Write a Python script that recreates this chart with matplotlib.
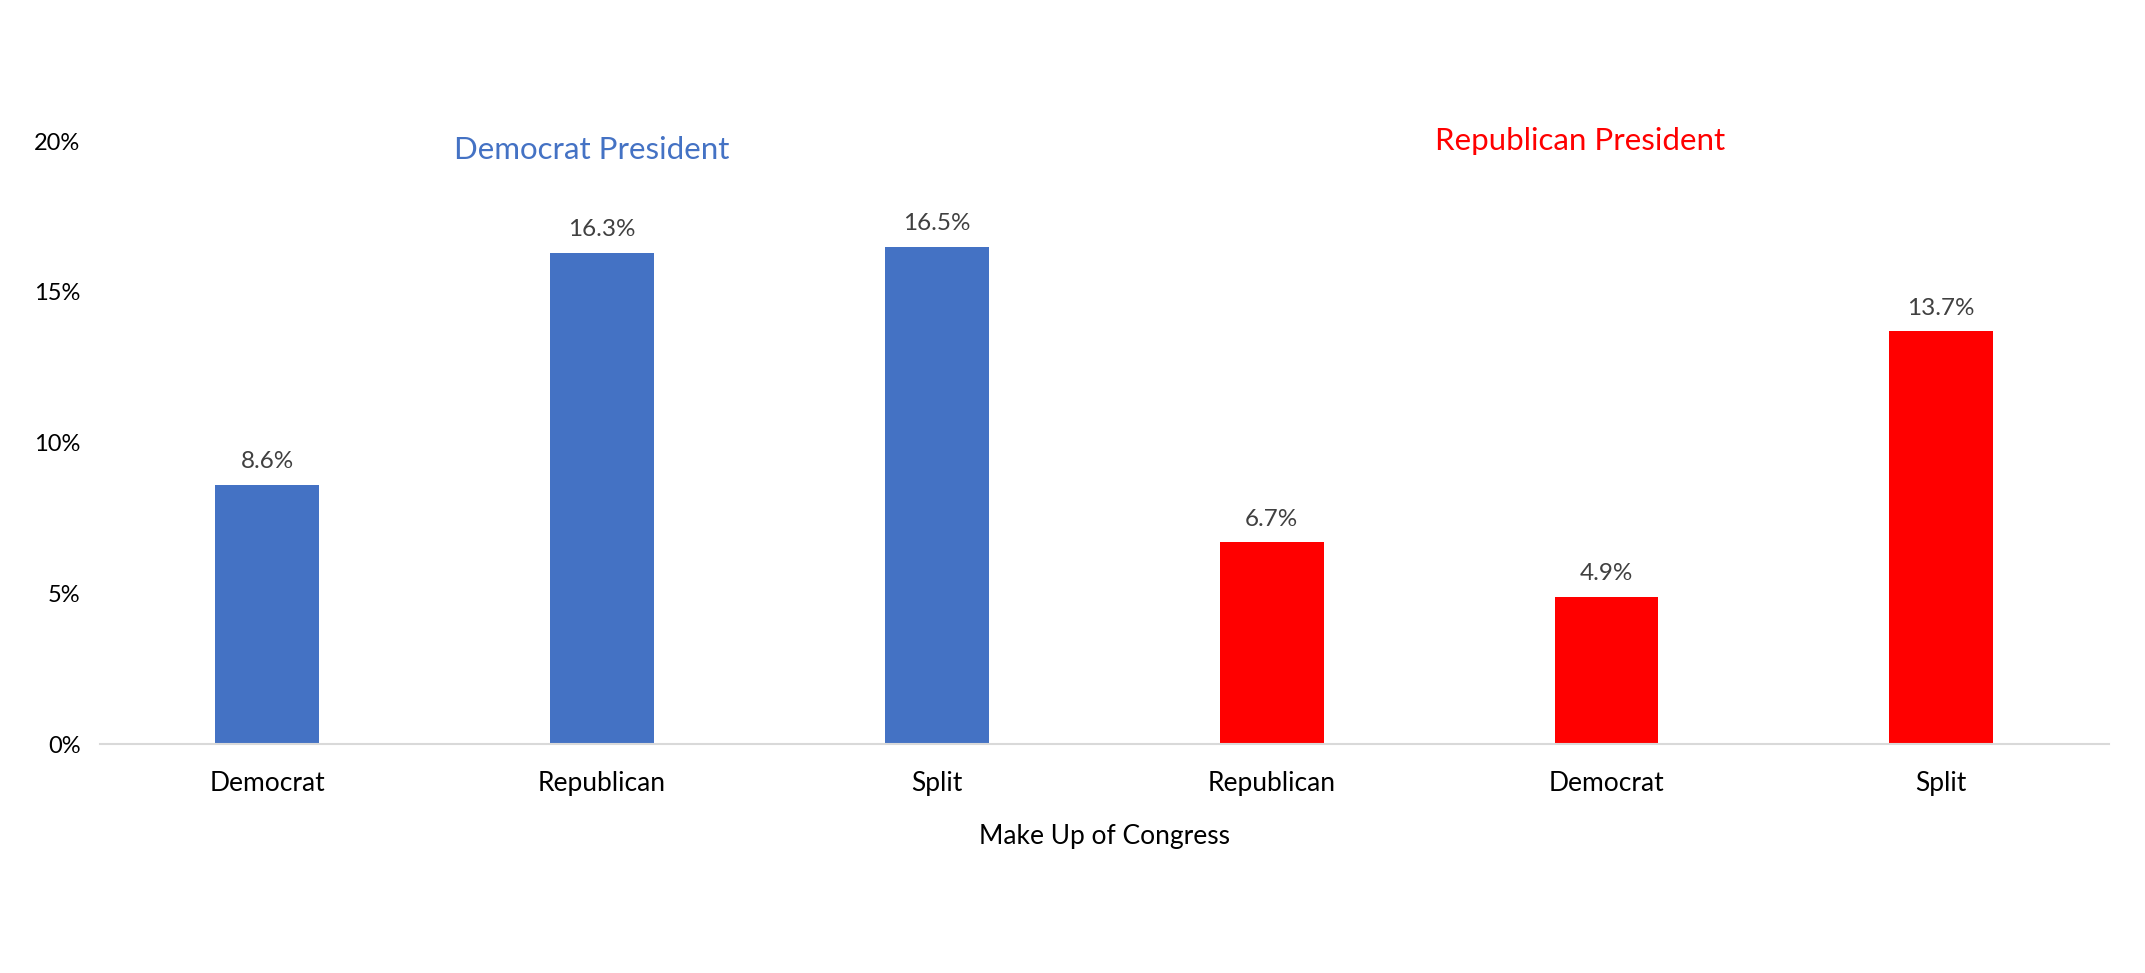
import matplotlib.pyplot as plt
from matplotlib.ticker import FuncFormatter

categories = ["Democrat", "Republican", "Split", "Republican", "Democrat", "Split"]
values = [8.6, 16.3, 16.5, 6.7, 4.9, 13.7]
president = ["Democrat", "Democrat", "Democrat", "Republican", "Republican", "Republican"]
yticks = [0, 5, 10, 15, 20]

blue = "#4472C4"
red = "#FF0000"
colors = [blue if p == "Democrat" else red for p in president]

plt.rcParams['font.family'] = ['Lato', 'DejaVu Sans']

fig = plt.figure(figsize=(21.45, 9.73), dpi=100)
ax = fig.add_axes([0.0466, 0.235, 0.9364, 0.62])

x = list(range(len(categories)))
bars = ax.bar(x, values, width=0.31, color=colors)
for b, v in zip(bars, values):
    ax.annotate("%.1f%%" % v, (b.get_x() + b.get_width() / 2, v),
                xytext=(0, 9), textcoords="offset points",
                ha="center", va="bottom", fontsize=17.5, color="#404040")

ax.set_xlim(-0.5, len(categories) - 0.5)
ax.set_ylim(0, 20)
ax.set_yticks(yticks)
ax.yaxis.set_major_formatter(FuncFormatter(lambda v, p: "%d%%" % v))
ax.set_xticks(x)
ax.set_xticklabels(categories)
ax.tick_params(axis="both", length=0, colors="black")
ax.tick_params(axis="x", pad=19, labelsize=19)
ax.tick_params(axis="y", pad=14, labelsize=17)

for s in ["top", "right", "left"]:
    ax.spines[s].set_visible(False)
ax.spines["bottom"].set_color("#D9D9D9")
ax.spines["bottom"].set_linewidth(1.5)

ax.set_xlabel("Make Up of Congress", fontsize=19, labelpad=20)

ax.text(0.97, 19.7, "Democrat President", color=blue, fontsize=22.5,
        ha="center", va="center")
ax.text(3.92, 20.0, "Republican President", color=red, fontsize=22.5,
        ha="center", va="center")

fig.savefig("out.png", dpi=100, facecolor="white")
